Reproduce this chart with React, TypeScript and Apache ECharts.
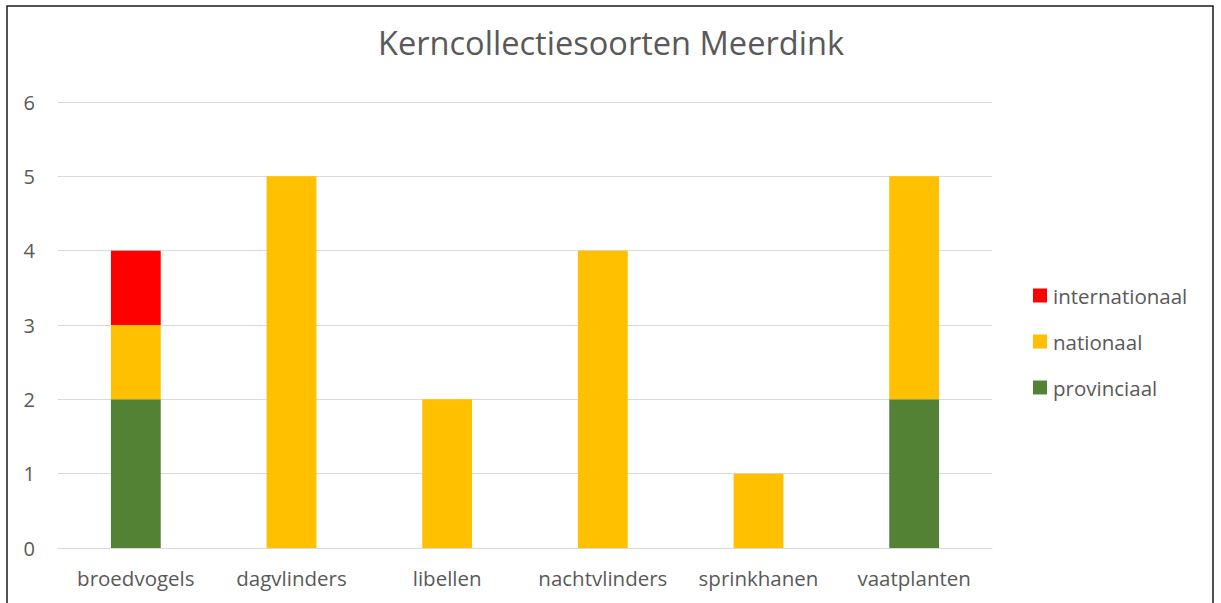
import React, { useEffect, useRef } from "react";
import * as echarts from "echarts";

const categories = ["broedvogels", "dagvlinders", "libellen", "nachtvlinders", "sprinkhanen", "vaatplanten"];
const provinciaal = [2, 0, 0, 0, 0, 2];
const nationaal = [1, 5, 2, 4, 1, 3];
const internationaal = [1, 0, 0, 0, 0, 0];
const yTicks = [0, 1, 2, 3, 4, 5, 6];

const FONT = "'Open Sans', 'Noto Sans', sans-serif";
const GRAY = "#595959";

export default function App() {
  const ref = useRef<HTMLDivElement>(null);
  useEffect(() => {
    if (!ref.current) return;
    const chart = echarts.init(ref.current, null, { renderer: "svg" });
    const nz = (arr: number[]) => arr.map((v) => (v === 0 ? null : v));
    chart.setOption({
      animation: false,
      backgroundColor: "#ffffff",
      title: {
        text: "Kerncollectiesoorten Meerdink",
        left: 606,
        textAlign: "center",
        top: 21,
        textStyle: { fontFamily: FONT, fontSize: 32.6, fontWeight: "normal", color: GRAY },
      },
      legend: {
        orient: "vertical",
        left: 1028,
        top: 280,
        itemGap: 25,
        itemWidth: 14,
        itemHeight: 14,
        icon: "rect",
        data: ["internationaal", "nationaal", "provinciaal"],
        textStyle: { fontFamily: FONT, fontSize: 20.5, color: GRAY, padding: [0, 0, 0, 1] },
      },
      grid: { left: 58, right: 229, top: 102, bottom: 55, containLabel: false },
      xAxis: {
        type: "category",
        data: categories,
        axisLine: { lineStyle: { color: "#d9d9d9", width: 1 } },
        axisTick: { show: false },
        axisLabel: { interval: 0, fontFamily: FONT, fontSize: 20.5, color: GRAY, margin: 19 },
      },
      yAxis: {
        type: "value",
        min: yTicks[0],
        max: yTicks[yTicks.length - 1],
        interval: 1,
        axisLine: { show: false },
        axisTick: { show: false },
        splitLine: { lineStyle: { color: "#d9d9d9", width: 1 } },
        axisLabel: { fontFamily: FONT, fontSize: 20, color: GRAY, margin: 23 },
      },
      graphic: [
        {
          type: "rect",
          shape: { x: 7, y: 6, width: 1206, height: 620 },
          style: { fill: "none", stroke: "#1a1a1a", lineWidth: 1.5 },
          silent: true,
          z: 100,
        },
      ],
      series: [
        { name: "provinciaal", type: "bar", stack: "a", data: nz(provinciaal), barWidth: "32%", itemStyle: { color: "#548235" } },
        { name: "nationaal", type: "bar", stack: "a", data: nz(nationaal), barWidth: "32%", itemStyle: { color: "#FFC000" } },
        { name: "internationaal", type: "bar", stack: "a", data: nz(internationaal), barWidth: "32%", itemStyle: { color: "#FF0000" } },
      ],
    });
    return () => chart.dispose();
  }, []);
  return (
    <div style={{ position: "absolute", left: 0, top: 0, width: 1221, height: 603, background: "#fff" }}>
      <div ref={ref} style={{ width: 1221, height: 603 }} />
    </div>
  );
}
